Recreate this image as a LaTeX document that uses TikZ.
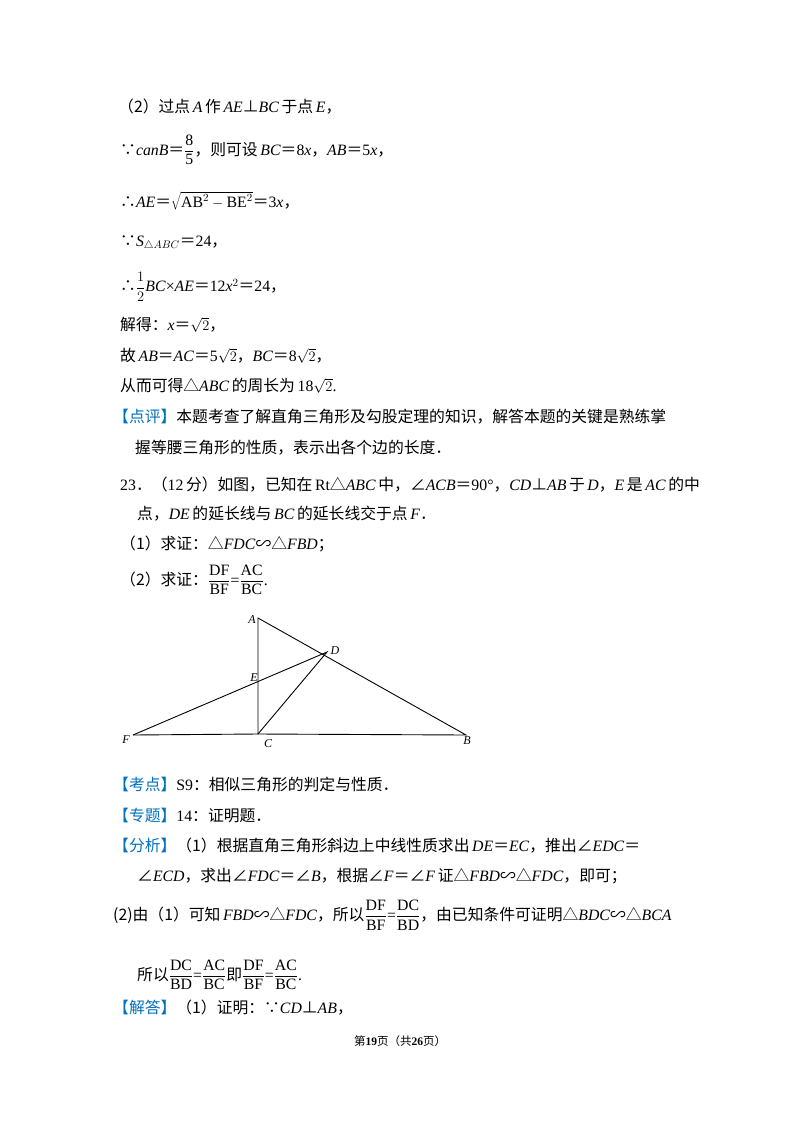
\documentclass[tikz,border=0pt]{standalone}
\usepackage{fontspec}
\setmainfont{Liberation Serif}
\newfontfamily\cjk{Noto Sans CJK SC}
\usetikzlibrary{positioning}
\definecolor{tagblue}{RGB}{0,112,192}
\newcommand{\zh}[1]{{\cjk #1}}
\newcommand{\tg}[1]{{\color{tagblue}\cjk 【#1】}}
\newcommand{\fr}[2]{$\displaystyle\frac{\mathrm{#1}}{\mathrm{#2}}$}
\begin{document}
\begin{tikzpicture}[x=1pt,y=-1pt,
  txt/.style={anchor=west,inner sep=0pt,font=\fontsize{15.8}{18}\selectfont},
  lbl/.style={inner sep=1pt,font=\itshape\fontsize{12}{14}\selectfont},
  seg/.style={line width=0.9pt}]
\useasboundingbox (0,0) rectangle (800,1132);
% text lines
\node[txt] (l1) at (118,107) {\zh{（2）过点}\,\textit{A}\,\zh{作}\,\textit{AE}\zh{⊥}\textit{BC}\,\zh{于点}\,\textit{E}\zh{，}};
\node[txt] (l2) at (120,150) {\zh{∵}\textit{canB}\zh{＝}\fr{8}{5}\zh{，则可设}\,\textit{BC}\zh{＝}8\textit{x}\zh{，}\textit{AB}\zh{＝}5\textit{x}\zh{，}};
\node[txt] (l3) at (120,201) {\zh{∴}\textit{AE}\zh{＝}$\sqrt{\mathrm{AB}^{2}-\mathrm{BE}^{2}}$\zh{＝}3\textit{x}\zh{，}};
\node[txt] (l4) at (120,243) {\zh{∵}\textit{S}$_{\triangle ABC}$\zh{＝}24\zh{，}};
\node[txt] (l5) at (120,287) {\zh{∴}$\displaystyle\frac{1}{2}$\textit{BC}×\textit{AE}\zh{＝}12\textit{x}$^{2}$\zh{＝}24\zh{，}};
\node[txt] (l6) at (120,325) {\zh{解得：}\textit{x}\zh{＝}$\sqrt{2}$\zh{，}};
\node[txt] (l7) at (120,356) {\zh{故}\,\textit{AB}\zh{＝}\textit{AC}\zh{＝}5$\sqrt{2}$\zh{，}\textit{BC}\zh{＝}8$\sqrt{2}$\zh{，}};
\node[txt] (l8) at (120,386) {\zh{从而可得△}\textit{ABC}\,\zh{的周长为}\,18$\sqrt{2}$.};
\node[txt] (l9) at (113,417) {\tg{点评}\zh{本题考查了解直角三角形及勾股定理的知识，解答本题的关键是熟练掌}};
\node[txt] (l10) at (135,448) {\zh{握等腰三角形的性质，表示出各个边的长度．}};
\node[txt] (l11) at (120,485) {23\zh{．（}12\,\zh{分）如图，已知在}\,Rt\zh{△}\textit{ABC}\,\zh{中，∠}\textit{ACB}\zh{＝}90°\zh{，}\textit{CD}\zh{⊥}\textit{AB}\,\zh{于}\,\textit{D}\zh{，}\textit{E}\,\zh{是}\,\textit{AC}\,\zh{的中}};
\node[txt] (l12) at (137,514) {\zh{点，}\textit{DE}\,\zh{的延长线与}\,\textit{BC}\,\zh{的延长线交于点}\,\textit{F}\zh{．}};
\node[txt] (l13) at (120,544) {\zh{（1）求证：△}\textit{FDC}\zh{∽△}\textit{FBD}\zh{；}};
\node[txt] (l14) at (120,580) {\zh{（2）求证：}\fr{DF}{BF}=\fr{AC}{BC}.};
% figure
\coordinate (A) at (258,618);
\coordinate (D) at (327,652);
\coordinate (E) at (258,680);
\coordinate (C) at (258,734);
\coordinate (F) at (133,735);
\coordinate (B) at (466,735);
\draw[seg] (A) -- (C) -- (B) -- cycle;
\draw[seg] (F) -- (C);
\draw[seg] (F) -- (D) -- (C);
\node[lbl] (nA) at (252,620) {A};
\node[lbl] (nD) at (335,651) {D};
\node[lbl] (nE) at (254,678) {E};
\node[lbl] (nC) at (268,744) {C};
\node[lbl] (nF) at (126,740) {F};
\node[lbl] (nB) at (467,741) {B};
% analysis
\node[txt] (l15) at (113,784) {\tg{考点}S9\zh{：相似三角形的判定与性质．}};
\node[txt] (l16) at (113,815) {\tg{专题}14\zh{：证明题．}};
\node[txt] (l17) at (113,846) {\tg{分析}\zh{（1）根据直角三角形斜边上中线性质求出}\,\textit{DE}\zh{＝}\textit{EC}\zh{，推出∠}\textit{EDC}\zh{＝}};
\node[txt] (l18) at (137,876) {\zh{∠}\textit{ECD}\zh{，求出∠}\textit{FDC}\zh{＝∠}\textit{B}\zh{，根据∠}\textit{F}\zh{＝∠}\textit{F}\,\zh{证△}\textit{FBD}\zh{∽△}\textit{FDC}\zh{，即可；}};
\node[txt] (l19) at (113,915) {\zh{(2)由（1）可知}\,\textit{FBD}\zh{∽△}\textit{FDC}\zh{，所以}\fr{DF}{BF}=\fr{DC}{BD}\zh{，由已知条件可证明△}\textit{BDC}\zh{∽△}\textit{BCA}};
\node[txt] (l20) at (137,975) {\zh{所以}\fr{DC}{BD}=\fr{AC}{BC}\zh{即}\fr{DF}{BF}=\fr{AC}{BC}.};
\node[txt] (l21) at (113,1008) {\tg{解答}\zh{（1）证明：∵}\textit{CD}\zh{⊥}\textit{AB}\zh{，}};
\node[inner sep=0pt,font=\fontsize{11.5}{13}\selectfont] (foot) at (400,1041) {\zh{第}\textbf{19}\zh{页（共}\textbf{26}\zh{页）}};
\end{tikzpicture}
\end{document}
